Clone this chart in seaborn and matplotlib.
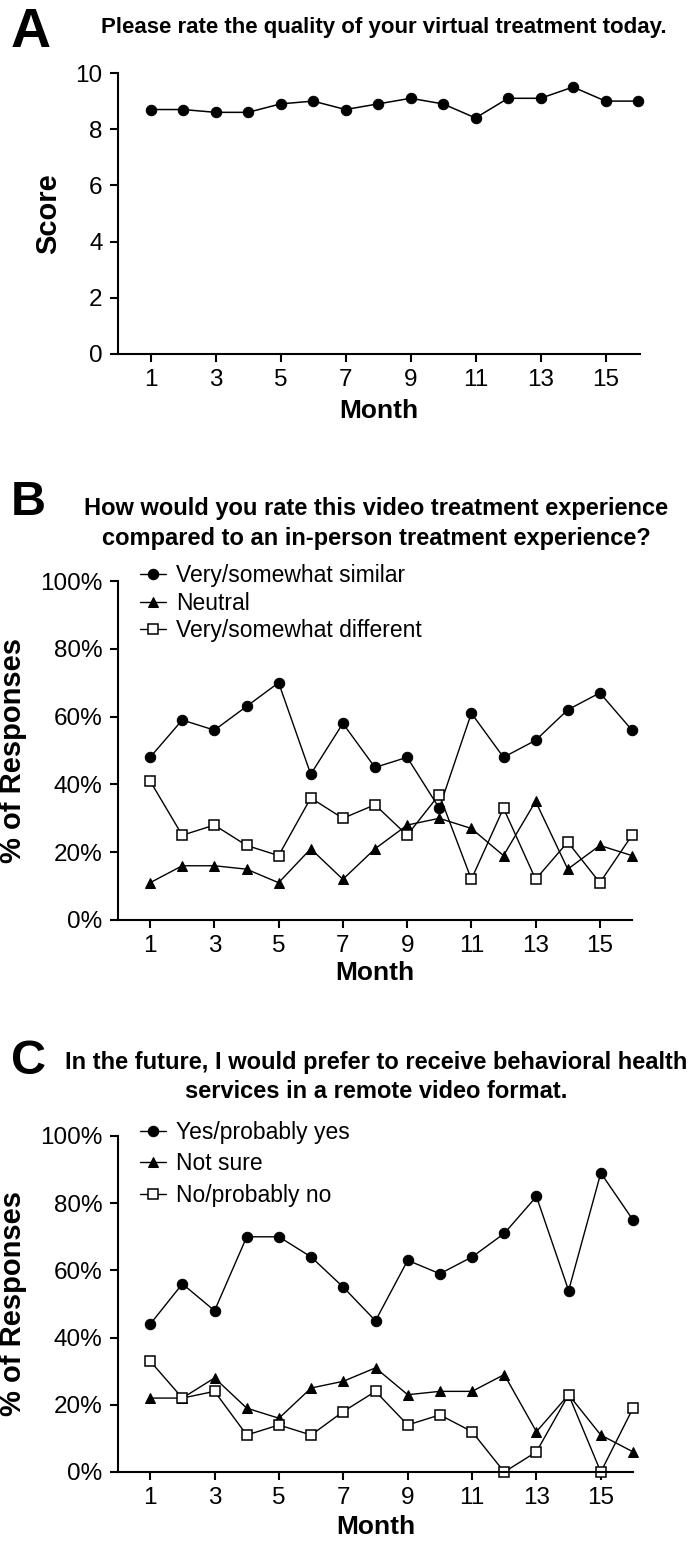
import numpy as np
import pandas as pd
import matplotlib
matplotlib.use("Agg")
import matplotlib.pyplot as plt
import seaborn as sns
from matplotlib.ticker import FuncFormatter

# ---------------- data ----------------
months = list(range(1, 17))

# Panel A - quality score
quality_score = [8.7, 8.7, 8.6, 8.6, 8.9, 9.0, 8.7, 8.9, 9.1, 8.9, 8.4, 9.1, 9.1, 9.5, 9.0, 9.0]

# Panel B - video vs in-person
b_similar = [48, 59, 56, 63, 70, 43, 58, 45, 48, 33, 61, 48, 53, 62, 67, 56]
b_neutral = [11, 16, 16, 15, 11, 21, 12, 21, 28, 30, 27, 19, 35, 15, 22, 19]
b_different = [41, 25, 28, 22, 19, 36, 30, 34, 25, 37, 12, 33, 12, 23, 11, 25]
b_labels = ["Very/somewhat similar", "Neutral", "Very/somewhat different"]

# Panel C - future preference
c_yes = [44, 56, 48, 70, 70, 64, 55, 45, 63, 59, 64, 71, 82, 54, 89, 75]
c_notsure = [22, 22, 28, 19, 16, 25, 27, 31, 23, 24, 24, 29, 12, 23, 11, 6]
c_no = [33, 22, 24, 11, 14, 11, 18, 24, 14, 17, 12, 0, 6, 23, 0, 19]
c_labels = ["Yes/probably yes", "Not sure", "No/probably no"]

x_ticks = [1, 3, 5, 7, 9, 11, 13, 15]

# ---------------- style ----------------
sns.set_style("ticks")
plt.rcParams["font.family"] = ["Liberation Sans", "DejaVu Sans"]
plt.rcParams["axes.linewidth"] = 1.5
for key in ["text.color", "axes.labelcolor", "xtick.color", "ytick.color", "axes.edgecolor"]:
    plt.rcParams[key] = "black"

W, H = 689, 1549
fig = plt.figure(figsize=(W / 100, H / 100), dpi=100)


def box(left, top, right, bottom):
    return [left / W, 1 - bottom / H, (right - left) / W, (bottom - top) / H]


marker_styles = [
    dict(marker="o", markerfacecolor="black", markeredgecolor="black", markersize=7.5),
    dict(marker="^", markerfacecolor="black", markeredgecolor="black", markersize=7),
    dict(marker="s", markerfacecolor="white", markeredgecolor="black", markersize=7.5, markeredgewidth=1.1),
]


def style_axes(ax, xmax, label_y):
    sns.despine(ax=ax)
    ax.set_xlim(0, xmax)
    ax.set_xticks(x_ticks)
    ax.tick_params(axis="both", direction="out", length=6, width=1.5, labelsize=17.5, pad=5)
    ax.set_xlabel("Month", fontsize=19, fontweight="bold")
    ax.xaxis.label.set_va("center")
    ax.xaxis.set_label_coords(0.5, label_y)
    ax.grid(False)


def pct(v, pos):
    return f"{int(v)}%"


# ---------------- Panel A ----------------
axA = fig.add_axes(box(118, 73, 640, 354))
sns.lineplot(x=months, y=quality_score, ax=axA, color="black", linewidth=1.1,
             marker="o", markersize=7.5, markeredgecolor="black", clip_on=False)
style_axes(axA, 16.06, -0.203)
axA.set_ylim(0, 10)
axA.set_yticks([0, 2, 4, 6, 8, 10])
axA.set_ylabel("Score", fontsize=21, fontweight="bold")
axA.yaxis.set_label_coords(-0.107, 0.5)


def panel(ax, series, labels, xmax, label_y, legend_y, spacing):
    for vals, lab, ms in zip(series, labels, marker_styles):
        sns.lineplot(x=months, y=vals, ax=ax, color="black", linewidth=1.0,
                     label=lab, clip_on=False, **ms)
    style_axes(ax, xmax, label_y)
    ax.set_ylim(0, 100)
    ax.set_yticks([0, 20, 40, 60, 80, 100])
    ax.yaxis.set_major_formatter(FuncFormatter(pct))
    ax.set_ylabel("% of Responses", fontsize=21, fontweight="bold")
    ax.yaxis.set_label_coords(-0.177, 0.5)
    ax.legend(loc="center left", bbox_to_anchor=(0.043, legend_y), frameon=False,
              fontsize=16.5, handlelength=1.15, handletextpad=0.42, labelspacing=spacing,
              borderpad=0, borderaxespad=0)


# ---------------- Panel B ----------------
axB = fig.add_axes(box(118, 581, 632, 920))
panel(axB, [b_similar, b_neutral, b_different], b_labels, 16.0, -0.156, 0.935, 0.2)

# ---------------- Panel C ----------------
axC = fig.add_axes(box(118, 1136, 633, 1472))
panel(axC, [c_yes, c_notsure, c_no], c_labels, 16.0, -0.164, 0.917, 0.37)

# ---------------- titles and panel letters ----------------
title_font = dict(fontweight="bold", ha="center", va="center")
fig.text(384 / W, 1 - 27 / H, "Please rate the quality of your virtual treatment today.",
         fontsize=16, **title_font)
fig.text(376 / W, 1 - 509 / H, "How would you rate this video treatment experience",
         fontsize=17, **title_font)
fig.text(376 / W, 1 - 538 / H, "compared to an in-person treatment experience?",
         fontsize=17, **title_font)
fig.text(376 / W, 1 - 1063 / H, "In the future, I would prefer to receive behavioral health",
         fontsize=17, **title_font)
fig.text(376 / W, 1 - 1091 / H, "services in a remote video format.",
         fontsize=17, **title_font)

letter_font = dict(fontweight="bold", ha="left", va="center")
fig.text(11 / W, 1 - 33 / H, "A", fontsize=40, **letter_font)
fig.text(11 / W, 1 - 502 / H, "B", fontsize=35, **letter_font)
fig.text(11 / W, 1 - 1062 / H, "C", fontsize=35, **letter_font)

fig.savefig("out.png", dpi=100)
